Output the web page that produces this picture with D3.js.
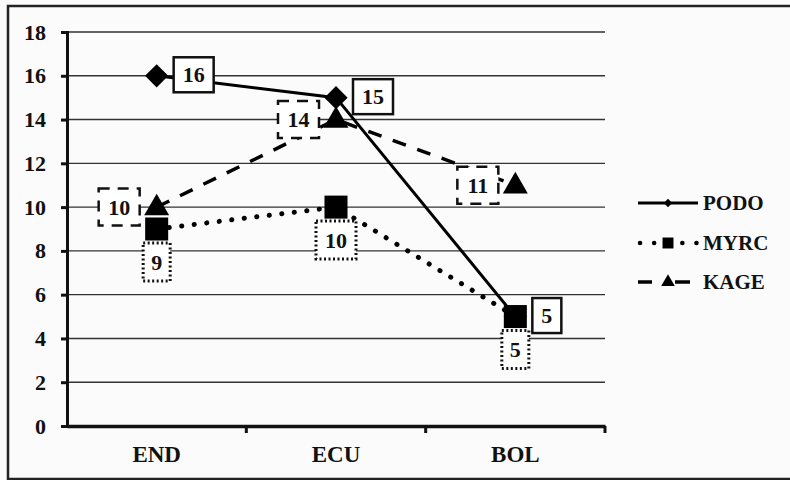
<!DOCTYPE html>
<html>
<head>
<meta charset="utf-8">
<script src="https://cdn.jsdelivr.net/npm/d3@7"></script>
<style>
  body { margin: 0; background: #fbfbfb; }
  svg { display: block; }
  svg text { font-family: "Liberation Serif", "Times New Roman", Times, serif !important; font-weight: bold; fill: #111; }
</style>
</head>
<body>
<div id="chart"></div>
<script>
// data
let categories = ["END", "ECU", "BOL"];
let seriesNames = ["PODO", "MYRC", "KAGE"];
let podoValues = [16, 15, 5];
let myrcValues = [9, 10, 5];
let kageValues = [10, 14, 11];
let yTicks = [0, 2, 4, 6, 8, 10, 12, 14, 16, 18];

let svgWidth = 790;
let svgHeight = 480;

let svg = d3.select("#chart")
    .append("svg")
    .attr("width", svgWidth)
    .attr("height", svgHeight);

// outer frame (right side runs off the picture)
svg.append("rect")
    .attr("x", 8)
    .attr("y", 6)
    .attr("width", 800)
    .attr("height", 473)
    .attr("fill", "none")
    .attr("stroke", "#222")
    .attr("stroke-width", 2.5);

let x = d3.scaleBand()
    .domain(categories)
    .range([67, 605]);

let y = d3.scaleLinear()
    .domain([0, 18])
    .range([426, 32]);

let cx = d => x(d) + x.bandwidth() / 2;

// gridlines
svg.append("g")
    .selectAll("line")
    .data(yTicks.filter(t => t > 0))
    .enter()
    .append("line")
    .attr("x1", 67)
    .attr("x2", 605)
    .attr("y1", d => y(d))
    .attr("y2", d => y(d))
    .attr("stroke", "#333")
    .attr("stroke-width", 1.4);

// y axis
let yAxis = svg.append("g")
    .attr("transform", "translate(67,0)")
    .call(d3.axisLeft(y).tickValues(yTicks).tickSize(6).tickPadding(15).tickFormat(d3.format("d")));
yAxis.select(".domain").attr("stroke", "#111").attr("stroke-width", 3);
yAxis.selectAll(".tick line").attr("stroke", "#111").attr("stroke-width", 3);
yAxis.selectAll(".tick text")
    .style("font-size", "22px")
    .attr("fill", "#111");

// x axis
let xAxis = svg.append("g")
    .attr("transform", "translate(0,426)")
    .call(d3.axisBottom(x).tickSize(0).tickPadding(20));
xAxis.select(".domain").attr("stroke", "#111").attr("stroke-width", 3.5);
xAxis.selectAll(".tick text")
    .style("font-size", "23px")
    .attr("fill", "#111");
// boundary ticks between categories
svg.append("g")
    .selectAll("line")
    .data(categories)
    .enter()
    .append("line")
    .attr("x1", d => x(d) + x.bandwidth())
    .attr("x2", d => x(d) + x.bandwidth())
    .attr("y1", 426)
    .attr("y2", 433)
    .attr("stroke", "#111")
    .attr("stroke-width", 3);

let line = d3.line()
    .x((d, i) => cx(categories[i]))
    .y(d => y(d));

let styles = {
    PODO: { values: podoValues, dash: null, width: 3, cap: "butt" },
    MYRC: { values: myrcValues, dash: "0.1 12.5", width: 5, cap: "round" },
    KAGE: { values: kageValues, dash: "14 12", width: 3.5, cap: "butt" }
};

// lines (KAGE and MYRC first so PODO sits on top)
["KAGE", "MYRC", "PODO"].forEach(name => {
    let s = styles[name];
    svg.append("path")
        .datum(s.values)
        .attr("d", line)
        .attr("fill", "none")
        .attr("stroke", "#000")
        .attr("stroke-width", s.width)
        .attr("stroke-dasharray", s.dash)
        .attr("stroke-linecap", s.cap);
});

let square = d3.symbol().type(d3.symbolSquare);
let triangle = d3.symbol().type(d3.symbolTriangle);

// markers
svg.append("g").selectAll("path")
    .data(kageValues).enter().append("path")
    .attr("transform", (d, i) => `translate(${cx(categories[i])},${y(d) + 1})`)
    .attr("d", triangle.size(270))
    .attr("fill", "#000");
svg.append("g").selectAll("path")
    .data(myrcValues).enter().append("path")
    .attr("transform", (d, i) => `translate(${cx(categories[i])},${y(d)})`)
    .attr("d", square.size(530))
    .attr("fill", "#000");
svg.append("g").selectAll("path")
    .data(podoValues).enter().append("path")
    .attr("transform", (d, i) => `translate(${cx(categories[i])},${y(d)}) rotate(45)`)
    .attr("d", square.size(270))
    .attr("fill", "#000");

// data labels in boxes
function addLabels(values, place, dash) {
    let g = svg.append("g");
    values.forEach((v, i) => {
        let px = cx(categories[i]);
        let py = y(v);
        let txt = String(v);
        let w = txt.length === 1 ? 29 : 40;
        let h = 35;
        let bx, by;
        if (place === "right") { bx = px + 17; by = py - h / 2 - 1; }
        if (place === "below") { w = txt.length === 1 ? 27 : 40; h = 38; bx = px - w / 2; by = py + 14; }
        if (place === "left") { w = 41; h = 37; bx = px - 17 - w; by = py - h / 2; }
        g.append("rect")
            .attr("x", bx)
            .attr("y", by)
            .attr("width", w)
            .attr("height", h)
            .attr("fill", "#fff")
            .attr("stroke", "#111")
            .attr("stroke-width", place === "below" ? 3 : 2.5)
            .attr("stroke-dasharray", dash);
        g.append("text")
            .attr("x", bx + w / 2)
            .attr("y", by + h / 2 + 7.5)
            .attr("text-anchor", "middle")
            .style("font-size", "22px")
            .text(txt);
    });
}
addLabels(podoValues, "right", null);
addLabels(myrcValues, "below", "2 2.5");
addLabels(kageValues, "left", "11 8");

// legend
let legend = svg.append("g");
let legendY = [203, 243, 282];
seriesNames.forEach((name, i) => {
    let ly = legendY[i];
    if (name === "PODO") {
        legend.append("line").attr("x1", 638).attr("x2", 698).attr("y1", ly).attr("y2", ly)
            .attr("stroke", "#000").attr("stroke-width", 3);
        legend.append("path").attr("transform", `translate(668,${ly}) rotate(45)`)
            .attr("d", square.size(36)).attr("fill", "#000");
    } else if (name === "MYRC") {
        legend.append("line").attr("x1", 640).attr("x2", 697).attr("y1", ly).attr("y2", ly)
            .attr("stroke", "#000").attr("stroke-width", 4.5)
            .attr("stroke-dasharray", "0.1 14").attr("stroke-linecap", "round");
        legend.append("path").attr("transform", `translate(668,${ly})`)
            .attr("d", square.size(120)).attr("fill", "#000");
    } else {
        legend.append("line").attr("x1", 638).attr("x2", 652).attr("y1", ly).attr("y2", ly)
            .attr("stroke", "#000").attr("stroke-width", 3.5);
        legend.append("line").attr("x1", 675).attr("x2", 690).attr("y1", ly).attr("y2", ly)
            .attr("stroke", "#000").attr("stroke-width", 3.5);
        legend.append("path").attr("transform", `translate(668,${ly})`)
            .attr("d", triangle.size(80)).attr("fill", "#000");
    }
    legend.append("text")
        .attr("x", 703)
        .attr("y", ly + 7)
        .style("font-size", "21px")
        .text(name);
});
</script>
</body>
</html>
